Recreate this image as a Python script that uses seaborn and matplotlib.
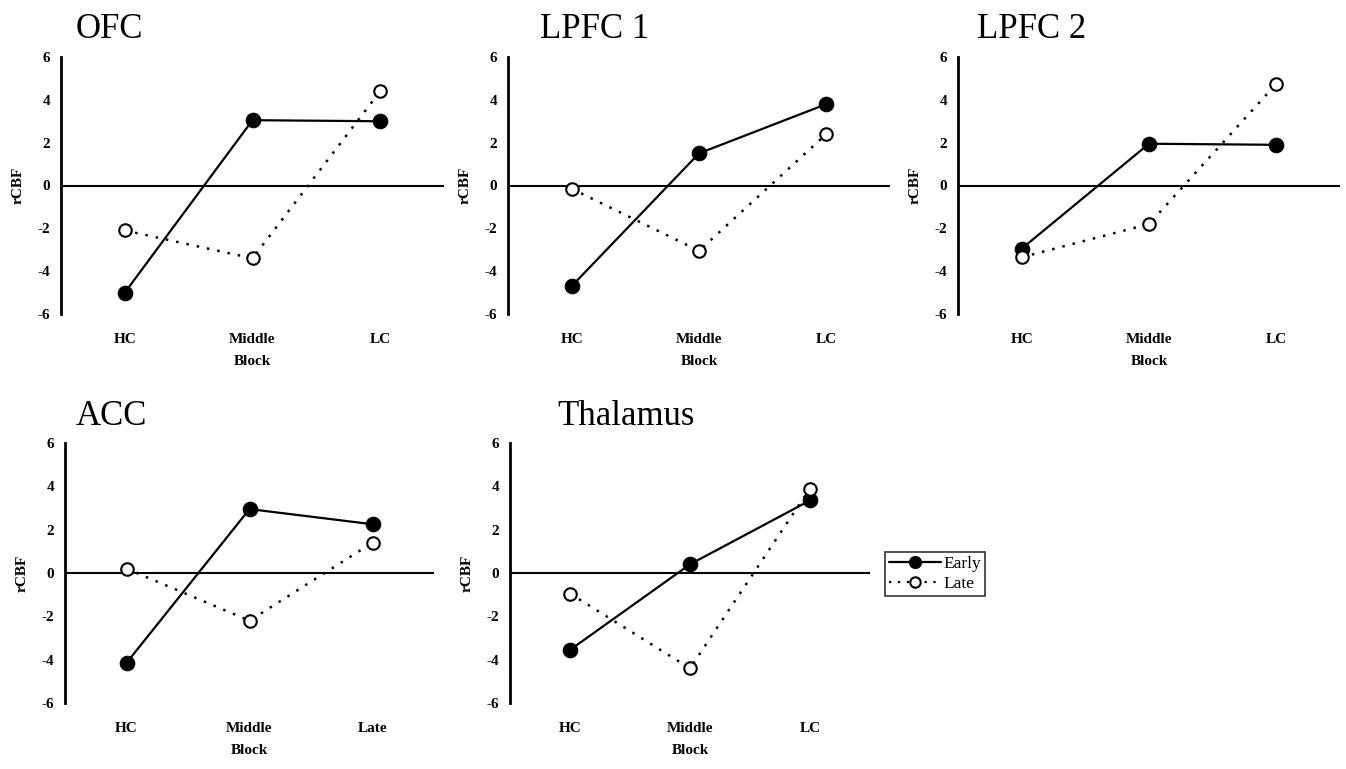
import numpy as np
import pandas as pd
import matplotlib
matplotlib.use("Agg")
import matplotlib.pyplot as plt
from matplotlib.lines import Line2D
import seaborn as sns

# block labels
blocks = ["HC", "Middle", "LC"]
acc_blocks = ["HC", "Middle", "Late"]

# rCBF values
ofc_early = [-5.0, 3.05, 3.0]
ofc_late = [-2.1, -3.4, 4.4]
lpfc1_early = [-4.7, 1.5, 3.8]
lpfc1_late = [-0.15, -3.05, 2.4]
lpfc2_early = [-2.95, 1.95, 1.9]
lpfc2_late = [-3.35, -1.8, 4.75]
acc_early = [-4.15, 2.95, 2.25]
acc_late = [0.2, -2.2, 1.4]
thal_early = [-3.55, 0.4, 3.35]
thal_late = [-0.95, -4.4, 3.9]

yticks = [-6, -4, -2, 0, 2, 4, 6]

sns.set_theme(style="white")
plt.rcParams["font.family"] = ["Liberation Serif", "DejaVu Serif"]
plt.rcParams["axes.unicode_minus"] = False
for k in ["text.color", "axes.labelcolor", "xtick.color", "ytick.color"]:
    plt.rcParams[k] = "black"

W, H = 1346, 769
fig = plt.figure(figsize=(W / 100, H / 100), dpi=100)


def px_axes(left, right, top, bottom):
    return fig.add_axes([left / W, 1 - bottom / H, (right - left) / W, (bottom - top) / H])


# (title, x labels, early, late, axes box in px, title x, title baseline)
panels = [
    ("OFC", blocks, ofc_early, ofc_late, (61, 444, 57, 314), 76, 38),
    ("LPFC 1", blocks, lpfc1_early, lpfc1_late, (508, 890, 57, 314), 540, 38),
    ("LPFC 2", blocks, lpfc2_early, lpfc2_late, (958, 1340, 57, 314), 977, 38),
    ("ACC", acc_blocks, acc_early, acc_late, (65, 434, 443, 703), 76, 425),
    ("Thalamus", blocks, thal_early, thal_late, (510, 870, 443, 703), 557, 425),
]

for title, xl, early, late, box, tx, ty in panels:
    ax = px_axes(*box)
    df = pd.DataFrame({"Block": xl * 2,
                       "rCBF": early + late,
                       "Series": ["Early"] * 3 + ["Late"] * 3})
    ax.axhline(0, color="black", lw=1.5, zorder=1)
    sns.lineplot(data=df[df.Series == "Early"], x="Block", y="rCBF", ax=ax,
                 color="black", lw=1.6, marker="o", markersize=10.5,
                 markerfacecolor="black", markeredgecolor="black", zorder=3)
    sns.lineplot(data=df[df.Series == "Late"], x="Block", y="rCBF", ax=ax,
                 color="black", lw=1.8, linestyle=(0, (1, 3.2)), marker="o",
                 markersize=9, markerfacecolor="white", markeredgecolor="black",
                 markeredgewidth=1.5, zorder=4)
    ax.set_xlim(-0.5, 2.5)
    ax.set_ylim(-6, 6)
    ax.set_yticks(yticks)
    ax.set_yticklabels([str(v) for v in yticks], fontweight="bold")
    ax.set_xticks(range(3))
    ax.set_xticklabels(xl, fontweight="bold")
    for s in ["top", "right", "bottom"]:
        ax.spines[s].set_visible(False)
    ax.spines["left"].set_color("black")
    ax.spines["left"].set_linewidth(2)
    ax.tick_params(axis="y", direction="in", length=4, width=1.5, color="black",
                   labelsize=11, pad=8)
    ax.tick_params(axis="x", length=0, labelsize=11, pad=13.5)
    ax.set_xlabel("Block", fontsize=11, labelpad=7, fontweight="bold")
    ax.set_ylabel("rCBF", fontsize=11, labelpad=9, fontweight="bold")
    ax.grid(False)
    ax.set_facecolor("none")
    fig.text(tx / W, 1 - ty / H, title, fontsize=25, ha="left", va="baseline",
             color="black")

handles = [
    Line2D([], [], color="black", lw=1.6, marker="o", markersize=8.5,
           markerfacecolor="black", markeredgecolor="black"),
    Line2D([], [], color="black", lw=1.6, linestyle=(0, (1, 3)), marker="o",
           markersize=7.5, markerfacecolor="white", markeredgecolor="black",
           markeredgewidth=1.5),
]
leg = fig.legend(handles, ["Early", "Late"], loc="center",
                 bbox_to_anchor=(935 / W, 1 - 574 / H), frameon=True,
                 fancybox=False, edgecolor="black", fontsize=12.5,
                 handlelength=3.0, handletextpad=0.1, borderpad=0.25,
                 labelspacing=0.2, borderaxespad=0)
leg.get_frame().set_linewidth(1.2)

fig.savefig("out.png", dpi=100, facecolor="white")
